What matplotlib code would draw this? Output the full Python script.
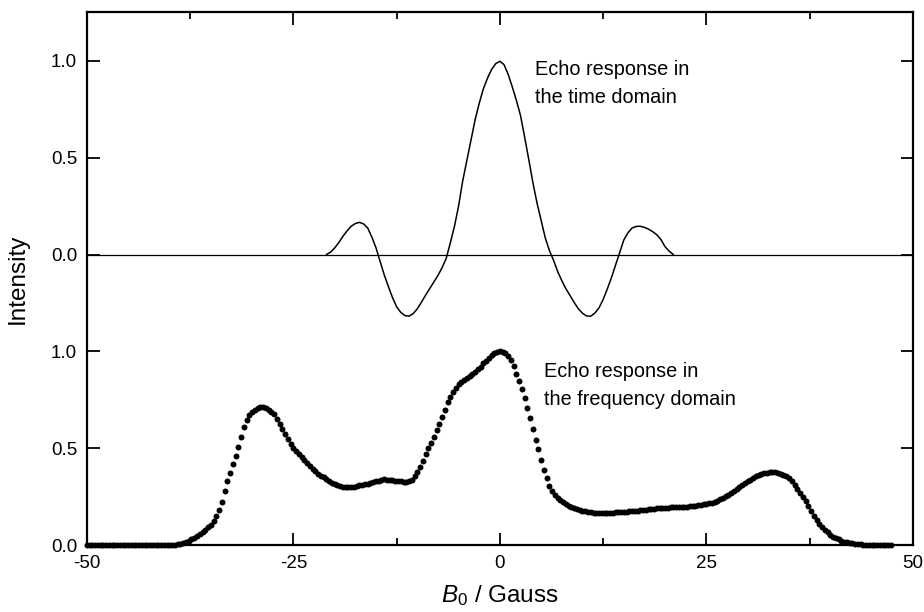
import numpy as np
import matplotlib
matplotlib.use('Agg')
import matplotlib.pyplot as plt
from matplotlib.ticker import MultipleLocator

plt.rcParams['font.family'] = ['Liberation Sans', 'DejaVu Sans']
plt.rcParams['mathtext.fontset'] = 'custom'
plt.rcParams['mathtext.it'] = 'Liberation Sans:italic'
plt.rcParams['mathtext.rm'] = 'Liberation Sans'

# echo response in the time domain (line), x from -21 to 21 step 0.5
time_x = np.arange(-21, 21.01, 0.5)
time_y = [0.0, 0.012, 0.034, 0.062, 0.094, 0.122, 0.146, 0.16, 0.166, 0.158,
          0.137, 0.09, 0.035, -0.035, -0.105, -0.165, -0.222, -0.27, -0.298, -0.315,
          -0.318, -0.305, -0.28, -0.246, -0.21, -0.176, -0.142, -0.108, -0.068, -0.02,
          0.06, 0.145, 0.25, 0.38, 0.485, 0.59, 0.695, 0.78, 0.855, 0.91,
          0.955, 0.985, 0.997, 0.98, 0.93, 0.865, 0.795, 0.717, 0.605, 0.49,
          0.37, 0.265, 0.175, 0.085, 0.02, -0.03, -0.088, -0.135, -0.177, -0.212,
          -0.248, -0.28, -0.303, -0.317, -0.318, -0.302, -0.275, -0.232, -0.178, -0.12,
          -0.055, 0.01, 0.075, 0.112, 0.137, 0.145, 0.146, 0.14, 0.131, 0.118,
          0.102, 0.077, 0.04, 0.017, 0.0]
time_offset = 1.5

# echo response in the frequency domain (dots), x from -50 step 1/3
freq_x = np.arange(293) / 3 - 50
freq_y = [0.0, 0.0, 0.0, 0.0, 0.0, 0.0, 0.0, 0.0, 0.0, 0.0,
          0.0, 0.0, 0.0, 0.0, 0.0, 0.0, 0.0, 0.0, 0.0, 0.0,
          0.0, 0.0, 0.0, 0.0, 0.0, 0.0, 0.0, 0.0, 0.0, 0.001,
          0.002, 0.003, 0.004,   # -40
          0.006, 0.008, 0.011,   # -39
          0.015, 0.021, 0.03,    # -38
          0.038, 0.047, 0.057,   # -37
          0.068, 0.08, 0.093,    # -36
          0.106, 0.125, 0.152,   # -35
          0.18, 0.225, 0.28,     # -34
          0.33, 0.375, 0.42,     # -33
          0.46, 0.505, 0.56,     # -32
          0.61, 0.645, 0.67,     # -31
          0.69, 0.70, 0.708,     # -30
          0.712, 0.713, 0.71,    # -29
          0.70, 0.69, 0.675,     # -28
          0.65, 0.625, 0.60,     # -27
          0.575, 0.55, 0.525,    # -26
          0.50, 0.485, 0.47,     # -25
          0.455, 0.44, 0.425,    # -24
          0.41, 0.396, 0.383,    # -23
          0.37, 0.36, 0.35,      # -22
          0.34, 0.331, 0.323,    # -21
          0.315, 0.31, 0.306,    # -20
          0.302, 0.30, 0.30,     # -19
          0.30, 0.303, 0.306,    # -18
          0.31, 0.313, 0.315,    # -17
          0.318, 0.322, 0.326,   # -16
          0.33, 0.334, 0.338,    # -15
          0.34, 0.339, 0.337,    # -14
          0.335, 0.333, 0.331,   # -13
          0.33, 0.328, 0.328,    # -12
          0.33, 0.338, 0.355,    # -11
          0.38, 0.405, 0.435,    # -10
          0.47, 0.50, 0.53,      # -9
          0.56, 0.593, 0.627,    # -8
          0.66, 0.70, 0.74,      # -7
          0.765, 0.79, 0.81,     # -6
          0.83, 0.843, 0.855,    # -5
          0.865, 0.875, 0.885,   # -4
          0.895, 0.908, 0.922,   # -3
          0.94, 0.953, 0.967,    # -2
          0.98, 0.99, 0.997,     # -1
          1.0, 0.998, 0.99,      # 0
          0.975, 0.955, 0.925,   # 1
          0.885, 0.85, 0.805,    # 2
          0.76, 0.71, 0.655,     # 3
          0.60, 0.545, 0.495,    # 4
          0.44, 0.39, 0.345,     # 5
          0.305, 0.28, 0.258,    # 6
          0.243, 0.233, 0.223,   # 7
          0.212, 0.205, 0.198,   # 8
          0.192, 0.187, 0.182,   # 9
          0.178, 0.175, 0.172,   # 10
          0.17, 0.169, 0.168,    # 11
          0.168, 0.168, 0.168,   # 12
          0.168, 0.168, 0.169,   # 13
          0.17, 0.17, 0.171,     # 14
          0.172, 0.173, 0.175,   # 15
          0.176, 0.177, 0.179,   # 16
          0.18, 0.182, 0.184,    # 17
          0.186, 0.187, 0.189,   # 18
          0.19, 0.191, 0.192,    # 19
          0.193, 0.194, 0.195,   # 20
          0.196, 0.197, 0.197,   # 21
          0.198, 0.199, 0.20,    # 22
          0.202, 0.203, 0.205,   # 23
          0.207, 0.209, 0.211,   # 24
          0.213, 0.216, 0.22,    # 25
          0.225, 0.231, 0.238,   # 26
          0.245, 0.253, 0.262,   # 27
          0.27, 0.28, 0.29,      # 28
          0.30, 0.31, 0.32,      # 29
          0.33, 0.339, 0.347,    # 30
          0.355, 0.361, 0.367,   # 31
          0.372, 0.375, 0.377,   # 32
          0.378, 0.377, 0.374,   # 33
          0.37, 0.363, 0.355,    # 34
          0.345, 0.33, 0.31,     # 35
          0.29, 0.27, 0.25,      # 36
          0.23, 0.205, 0.177,    # 37
          0.15, 0.13, 0.11,      # 38
          0.095, 0.08, 0.067,    # 39
          0.055, 0.045, 0.037,   # 40
          0.03, 0.024, 0.019,    # 41
          0.015, 0.012, 0.01,    # 42
          0.008, 0.007, 0.005,   # 43
          0.004, 0.003, 0.003,   # 44
          0.002, 0.002, 0.002,   # 45
          0.001, 0.001, 0.001,   # 46
          0.0, 0.0]              # 47

ytick_pos = [0.0, 0.5, 1.0, 1.5, 2.0, 2.5]
ytick_lab = ['0.0', '0.5', '1.0', '0.0', '0.5', '1.0']
xtick_pos = [-50, -25, 0, 25, 50]
xtick_lab = ['-50', '-25', '0', '25', '50']

fig = plt.figure(figsize=(9.24, 6.12), dpi=100)
ax = fig.add_axes([0.094, 0.109, 0.894, 0.871])

ax.axhline(time_offset, color='black', lw=0.9)
ax.plot(time_x, np.array(time_y) + time_offset, color='black', lw=1.1)
ax.plot(freq_x, freq_y, 'o', color='black', ms=4.3, mew=0, clip_on=False)

ax.set_xlim(-50, 50)
ax.set_ylim(0, 2.75)
ax.set_xticks(xtick_pos)
ax.set_xticklabels(xtick_lab)
ax.xaxis.set_minor_locator(MultipleLocator(12.5))
ax.set_yticks(ytick_pos)
ax.set_yticklabels(ytick_lab)

ax.tick_params(which='both', direction='in', top=True, right=True, width=1.3,
               labelsize=13.5, pad=7)
ax.tick_params(which='major', length=9)
ax.tick_params(which='minor', length=5)
for s in ax.spines.values():
    s.set_linewidth(1.6)

ax.set_ylabel('Intensity', fontsize=17.5, labelpad=16)
ax.set_xlabel(r'$B_0$ / Gauss', fontsize=17.5, labelpad=8)

ax.text(4.2, 2.384, 'Echo response in\nthe time domain', fontsize=14.3,
        ha='left', va='center', linespacing=1.6)
ax.text(5.37, 0.825, 'Echo response in\nthe frequency domain', fontsize=14.3,
        ha='left', va='center', linespacing=1.6)

fig.savefig('out.png', dpi=100)
